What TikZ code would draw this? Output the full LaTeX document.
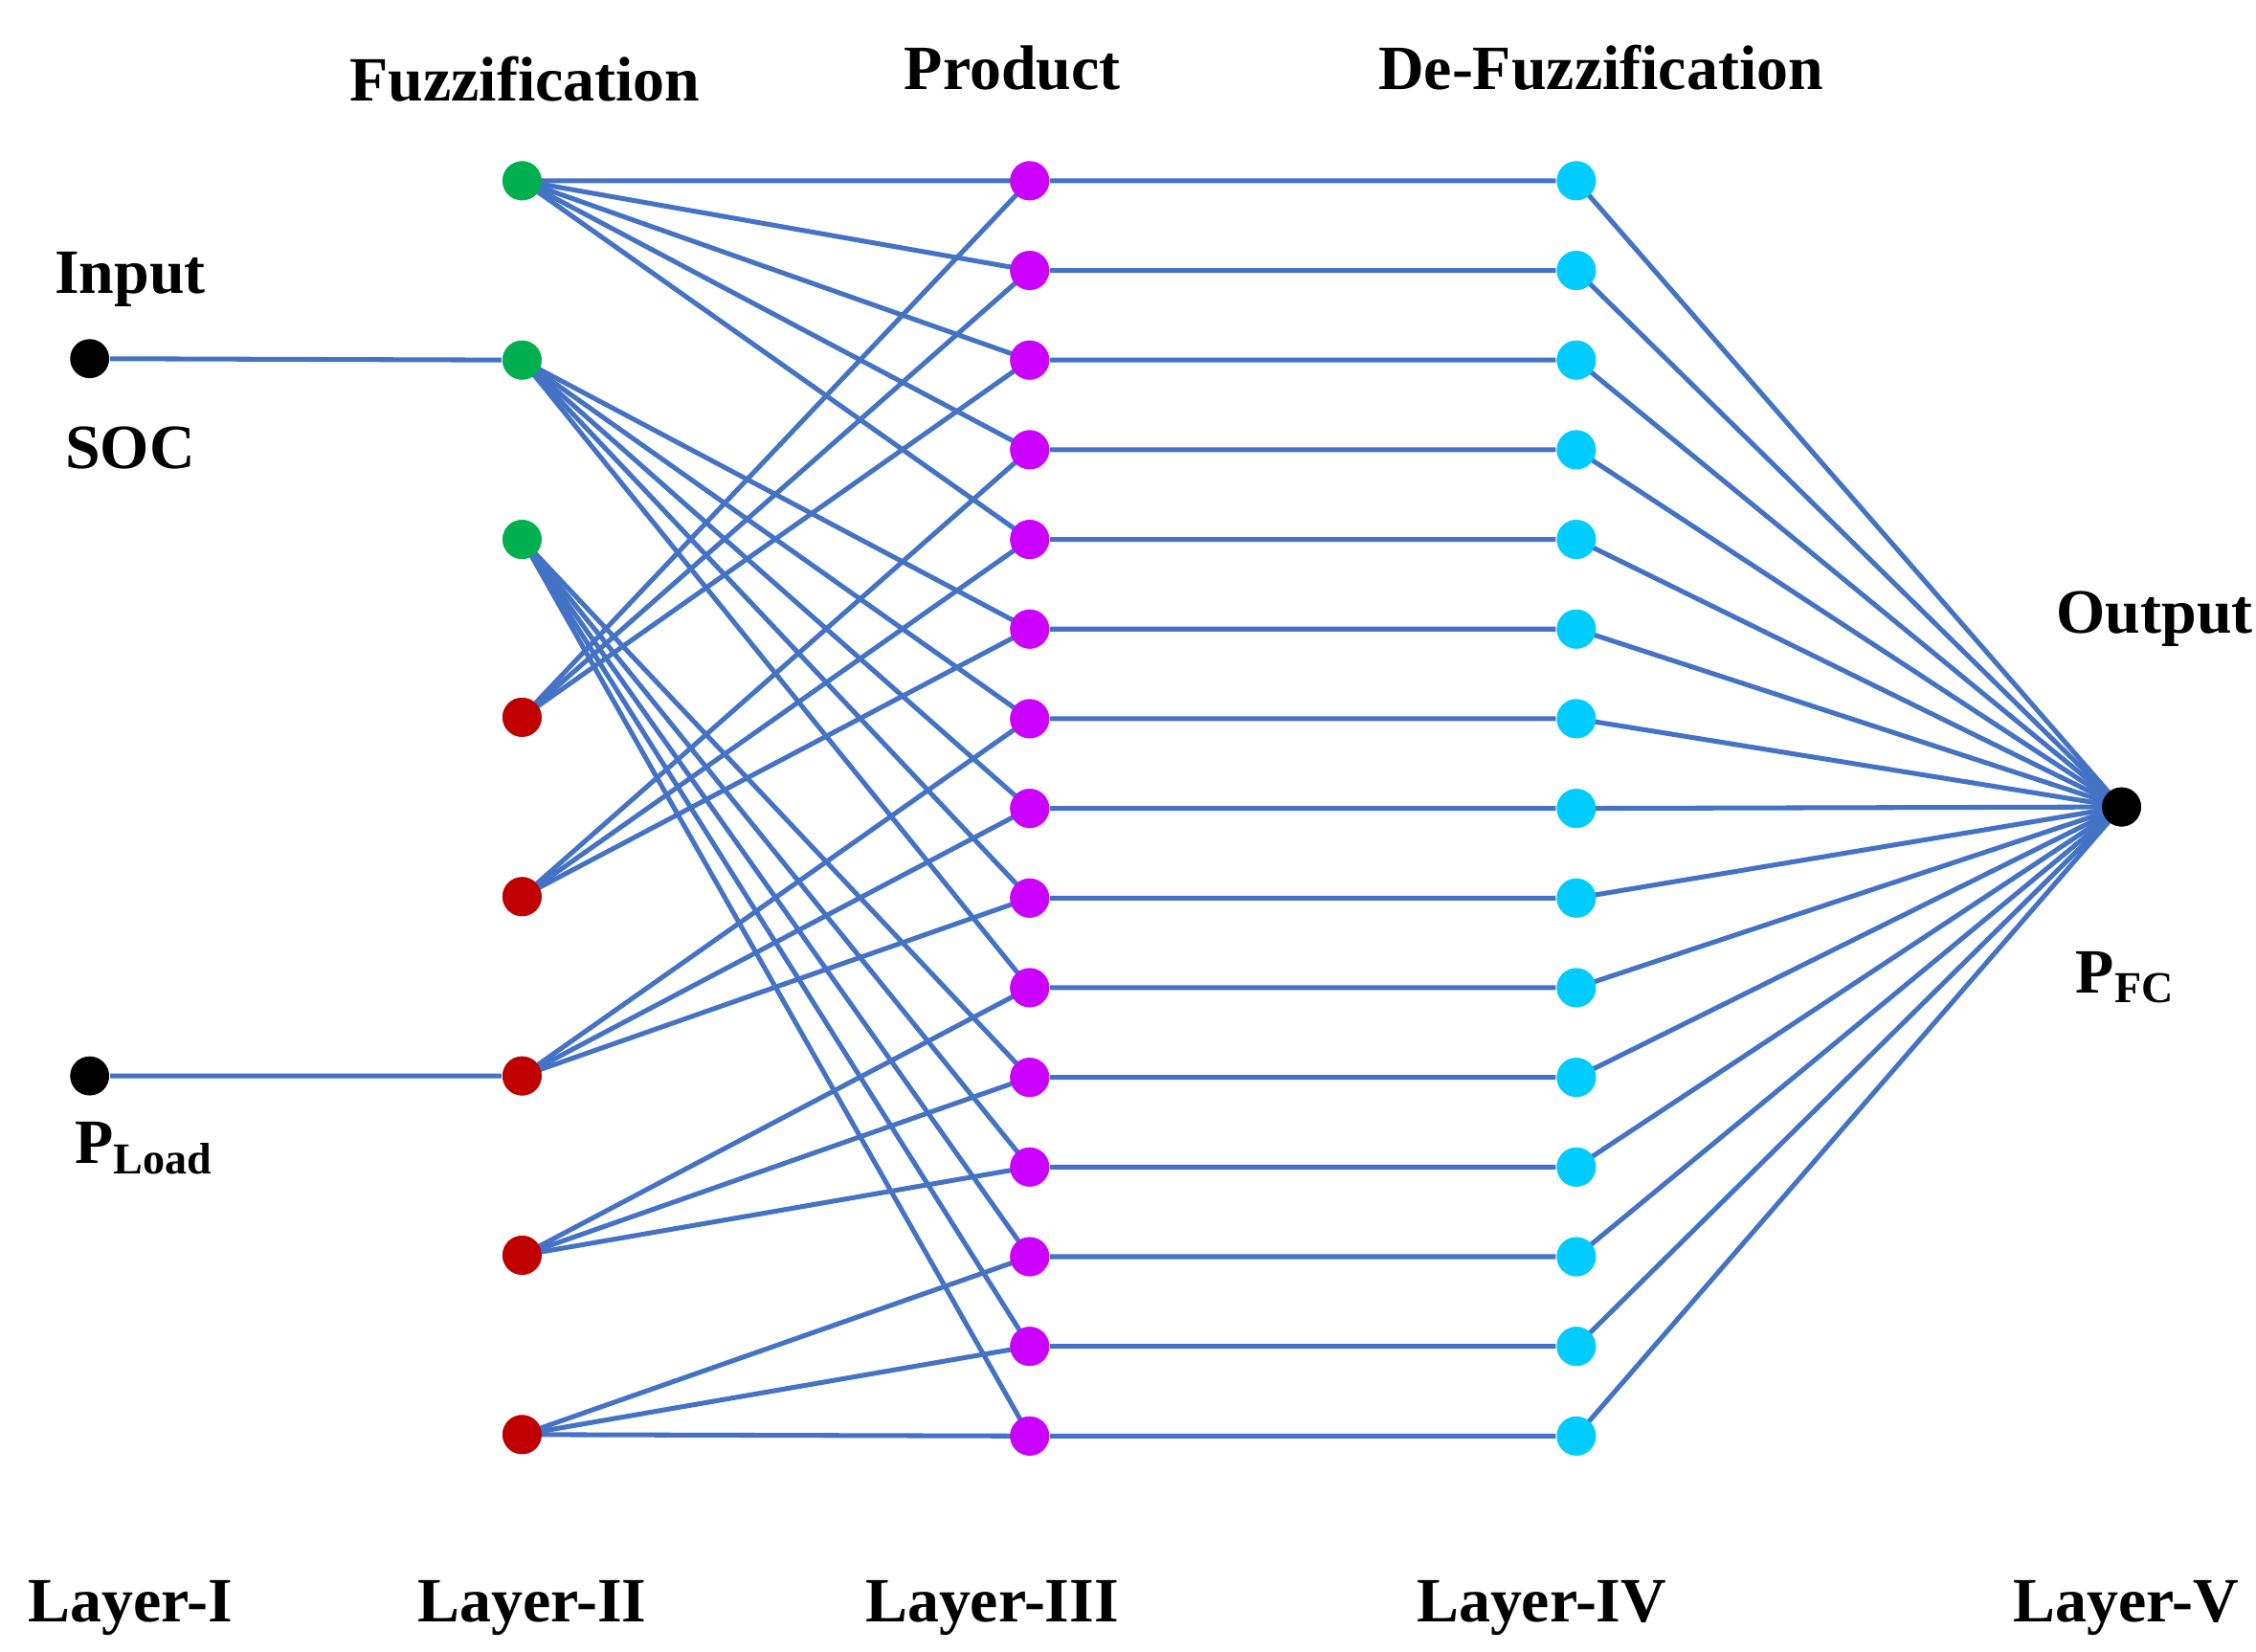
\documentclass[tikz,border=0pt]{standalone}
\usepackage{fontspec}
\setmainfont{Liberation Serif}
\usetikzlibrary{positioning}
\definecolor{linkblue}{RGB}{68,114,196}
\definecolor{fgreen}{RGB}{0,176,80}
\definecolor{fred}{RGB}{192,0,0}
\definecolor{pmag}{RGB}{204,0,255}
\definecolor{dcyan}{RGB}{0,204,255}
\begin{document}
\begin{tikzpicture}[x=0.01cm, y=-0.01cm,
    dot/.style={circle, fill=#1, inner sep=0pt, minimum size=0.27cm},
    link/.style={draw=linkblue, line width=0.95pt},
    lbl/.style={font=\fontsize{12.4}{14}\selectfont\bfseries}]
        \useasboundingbox (0,0) rectangle (1560,1142);
        % layer I
        \node (soc) [dot=black] at (62,248) {};
        \node (load) [dot=black] at (62,744) {};
        % layer II
        \foreach \i in {1,2,3}
            \node (g\i) [dot=fgreen] at (361,{125+(\i-1)*124}) {};
        \foreach \j in {1,...,5}
            \node (r\j) [dot=fred] at (361,{496+(\j-1)*124}) {};
        % layer III and IV
        \foreach \k in {1,...,15} {
            \node (p\k) [dot=pmag] at (712,{125+(\k-1)*62}) {};
            \node (d\k) [dot=dcyan] at (1090,{125+(\k-1)*62}) {};
        }
        % layer V
        \node (out) [dot=black] at (1467,558) {};

        \path[link] (soc) -- (g2) (load) -- (r3);
        \foreach \k in {1,...,15} {
            \pgfmathtruncatemacro{\gi}{int((\k-1)/5)+1}
            \pgfmathtruncatemacro{\rj}{int((\k-1)/3)+1}
            \path[link] (g\gi.center) -- (p\k.center)
                        (r\rj.center) -- (p\k.center)
                        (p\k) -- (d\k)
                        (d\k.center) -- (out.center);
        }
        % redraw dots on top
        \foreach \n in {g1,g2,g3} \fill[fgreen] (\n) circle (0.135cm);
        \foreach \n in {r1,r2,r3,r4,r5} \fill[fred] (\n) circle (0.135cm);
        \foreach \k in {1,...,15} {
            \fill[pmag] (p\k) circle (0.135cm);
            \fill[dcyan] (d\k) circle (0.135cm);
        }
        \fill[black] (out) circle (0.135cm);

        \node (t1) [lbl] at (363,55) {Fuzzification};
        \node (t2) [lbl] at (700,47) {Product};
        \node (t3) [lbl] at (1107,47) {De-Fuzzification};
        \node (in) [lbl] at (90,193) {Input};
        \node (socl) [lbl] at (90,310) {SOC};
        \node (loadl) [lbl] at (100,794) {P\textsubscript{Load}};
        \node (outl) [lbl] at (1490,428) {Output};
        \node (fcl) [lbl] at (1470,676) {P\textsubscript{FC}};
        \node (l1) [lbl] at (90,1112) {Layer-I};
        \node (l2) [lbl] at (368,1112) {Layer-II};
        \node (l3) [lbl] at (686,1112) {Layer-III};
        \node (l4) [lbl] at (1066,1112) {Layer-IV};
        \node (l5) [lbl] at (1470,1112) {Layer-V};
    \end{tikzpicture}
\end{document}
